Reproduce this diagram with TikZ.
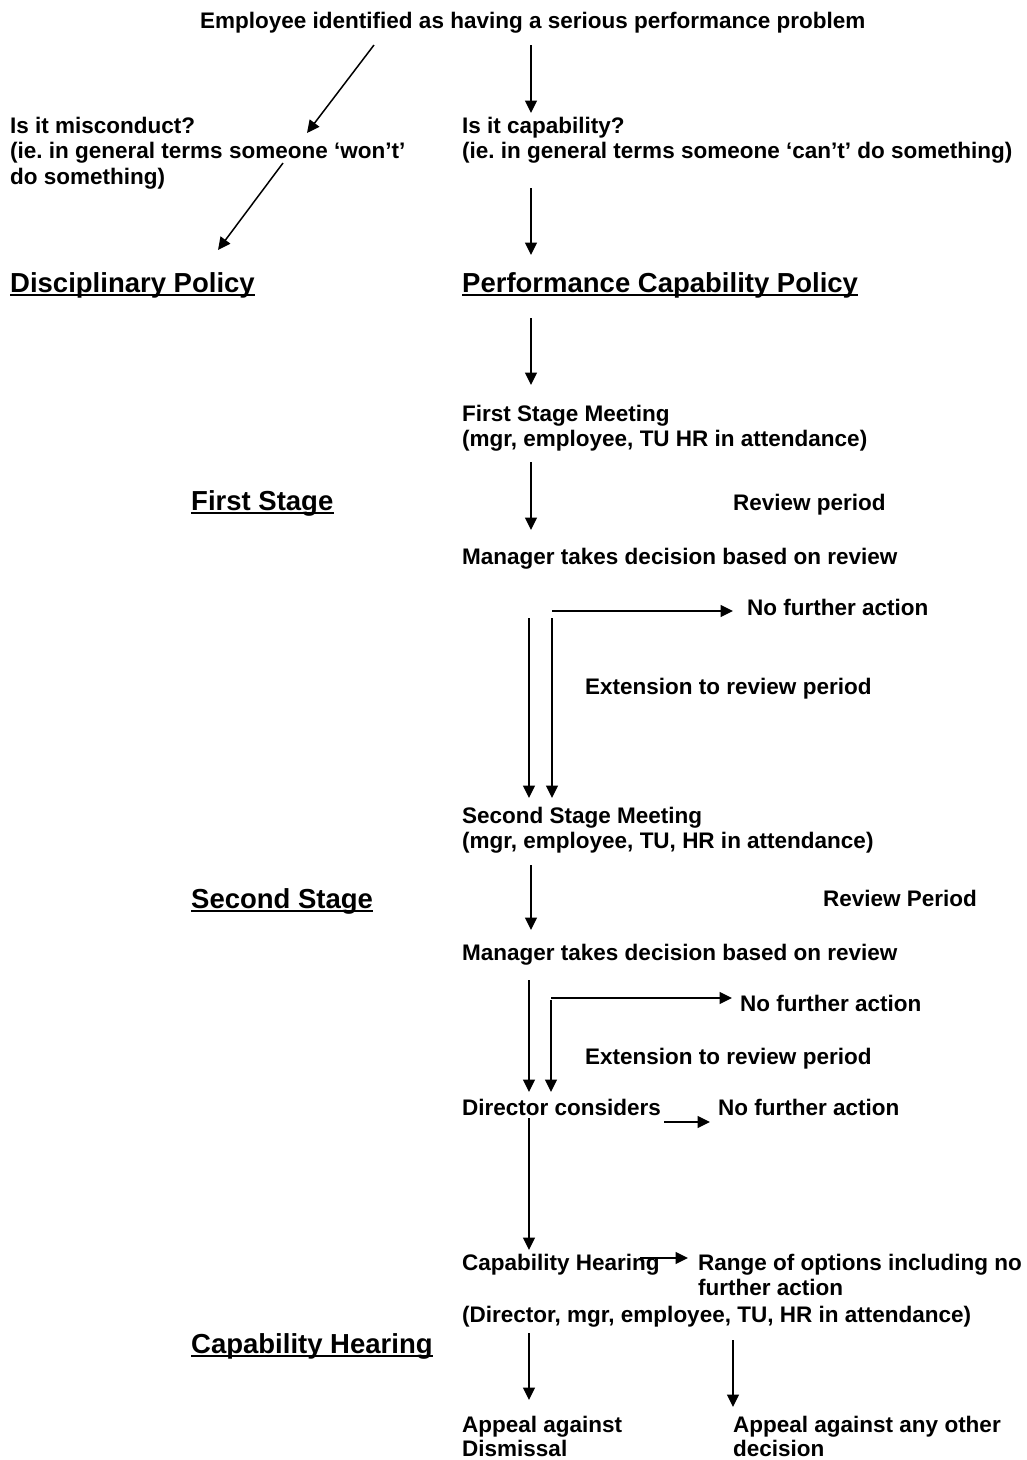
\documentclass[tikz,border=0pt]{standalone}
\usepackage{fontspec}
\setmainfont{Liberation Sans}
\usetikzlibrary{arrows.meta}
\frenchspacing
\begin{document}
\begin{tikzpicture}[x=1pt,y=-1pt,
  txt/.style={font=\bfseries\fontsize{22.5}{25.5}\selectfont, inner sep=0pt, anchor=base west},
  blk/.style={font=\bfseries\fontsize{22.5}{25.5}\selectfont, inner sep=0pt, anchor=north west, align=left},
  tblk/.style={font=\bfseries\fontsize{22.5}{23.5}\selectfont, inner sep=0pt, anchor=north west, align=left},
  head/.style={font=\bfseries\fontsize{27.5}{32}\selectfont, inner sep=0pt, anchor=base west},
  arr/.style={line width=1.5pt, -{Triangle[length=12.5pt,width=12pt]}},
  uline/.style={line width=2pt}]
\useasboundingbox (0,0) rectangle (1027,1460);

% texts
\node[txt] (title) at (200,28) {Employee identified as having a serious performance problem};
\node[blk] (mis) at (10,116.5) {Is it misconduct?\\(ie. in general terms someone ‘won’t’\\do something)};
\node[blk] (cap) at (462,116.5) {Is it capability?\\(ie. in general terms someone ‘can’t’ do something)};
\node[head] (disc) at (10,292) {Disciplinary Policy};
\node[head] (pcp) at (462,292) {Performance Capability Policy};
\node[blk] (fsm) at (462,404.5) {First Stage Meeting\\(mgr, employee, TU HR in attendance)};
\node[head] (fs) at (191,510) {First Stage};
\node[txt] (rp1) at (733,510) {Review period};
\node[txt] (mtd1) at (462,564) {Manager takes decision based on review};
\node[txt] (nfa1) at (747,615) {No further action};
\node[txt] (ext1) at (585,694) {Extension to review period};
\node[blk] (ssm) at (462,806.5) {Second Stage Meeting\\(mgr, employee, TU, HR in attendance)};
\node[head] (ss) at (191,908) {Second Stage};
\node[txt] (rp2) at (823,906) {Review Period};
\node[txt] (mtd2) at (462,960) {Manager takes decision based on review};
\node[txt] (nfa2) at (740,1011) {No further action};
\node[txt] (ext2) at (585,1064) {Extension to review period};
\node[txt] (dc) at (462,1115) {Director considers};
\node[txt] (nfa3) at (718,1115) {No further action};
\node[txt] (ch) at (462,1270) {Capability Hearing};
\node[blk] (range) at (698,1253.5) {Range of options including no\\further action};
\node[txt] (dir) at (462,1322) {(Director, mgr, employee, TU, HR in attendance)};
\node[head] (chh) at (191,1353) {Capability Hearing};
\node[tblk] (aad) at (462,1416) {Appeal against\\Dismissal};
\node[tblk] (aao) at (733,1416) {Appeal against any other\\decision};

% underlines
\foreach \n in {disc,pcp,fs,ss,chh}
  \draw[uline] ([yshift=-3pt]\n.base west) -- ([yshift=-3pt]\n.base east);

% arrow end points
\coordinate (p1s) at (374,45);   \coordinate (p1e) at (307,133);
\coordinate (p2s) at (283,163);  \coordinate (p2e) at (218,250);
\coordinate (p3s) at (531,45);   \coordinate (p3e) at (531,113);
\coordinate (p4s) at (531,188);  \coordinate (p4e) at (531,255);
\coordinate (p5s) at (531,318);  \coordinate (p5e) at (531,385);
\coordinate (p6s) at (531,462);  \coordinate (p6e) at (531,530);
\coordinate (p7s) at (529,618);  \coordinate (p7e) at (529,798);
\coordinate (p8s) at (552,618);  \coordinate (p8e) at (552,798);
\coordinate (p9s) at (552,611);  \coordinate (p9e) at (733,611);
\coordinate (p10s) at (531,865); \coordinate (p10e) at (531,930);
\coordinate (p11s) at (529,980); \coordinate (p11e) at (529,1092);
\coordinate (p12s) at (551,1000);\coordinate (p12e) at (551,1092);
\coordinate (p13s) at (551,998); \coordinate (p13e) at (732,998);
\coordinate (p14s) at (664,1122);\coordinate (p14e) at (710,1122);
\coordinate (p15s) at (529,1118);\coordinate (p15e) at (529,1250);
\coordinate (p16s) at (640,1258);\coordinate (p16e) at (688,1258);
\coordinate (p17s) at (529,1333);\coordinate (p17e) at (529,1400);
\coordinate (p18s) at (733,1340);\coordinate (p18e) at (733,1407);

\foreach \i in {1,...,18}
  \draw[arr] (p\i s) -- (p\i e);
\end{tikzpicture}
\end{document}
